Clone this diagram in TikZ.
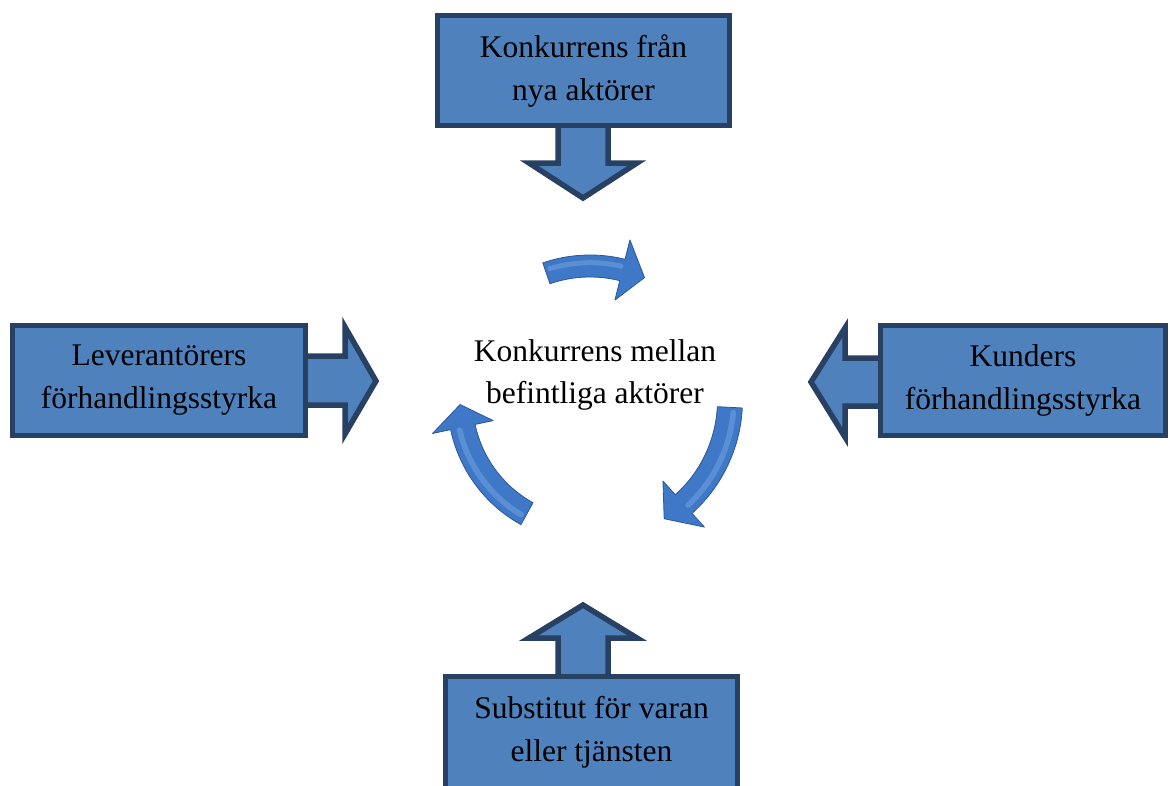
\documentclass[tikz,border=0pt]{standalone}
\usepackage{fontspec}
\setmainfont{Liberation Serif}
\definecolor{boxblue}{RGB}{79,129,189}
\definecolor{boxedge}{RGB}{40,64,98}
\definecolor{cycblue}{RGB}{62,120,198}
\definecolor{cycedge}{RGB}{42,88,155}
\definecolor{cyclight}{RGB}{125,172,228}
\tikzset{
  box/.style={draw=boxedge, fill=boxblue, line width=5.5pt, align=center, inner sep=0pt,
    font=\fontsize{31.5}{43}\selectfont},
  blockarrow/.style={draw=boxedge, fill=boxblue, line width=5.5pt, line join=miter},
  cyclearrow/.style={fill=cycblue, draw=cycedge, line width=0.8pt, line join=round},
  cyclehi/.style={draw=cyclight, line cap=round, opacity=0.45},
  centertext/.style={align=center, font=\fontsize{31.5}{42}\selectfont}
}
% #1 radius, #2 tail angle, #3 head-base angle, #4 tip angle, #5 shaft half width, #6 head half width
\newcommand{\mycyclearrow}[6]{%
  \filldraw[cyclearrow]
    plot[domain=#2:#3, samples=30] ({590+(#1+#5)*cos(\x)},{400+(#1+#5)*sin(\x)})
    -- ({590+(#1+#6)*cos(#3)},{400+(#1+#6)*sin(#3)})
    -- ({590+#1*cos(#4)},{400+#1*sin(#4)})
    -- ({590+(#1-#6)*cos(#3)},{400+(#1-#6)*sin(#3)})
    -- plot[domain=#3:#2, samples=30] ({590+(#1-#5)*cos(\x)},{400+(#1-#5)*sin(\x)})
    -- cycle;
  \draw[cyclehi, line width=#5*0.45pt]
    plot[domain=#2+2:#3-1, samples=30] ({590+(#1+#5*0.3)*cos(\x)},{400+(#1+#5*0.3)*sin(\x)});
}
\begin{document}
\begin{tikzpicture}[x=1pt, y=-1pt]
\useasboundingbox (0,0) rectangle (1170,785);

% block arrows (drawn below the boxes)
\draw[blockarrow] (558,120) -- (558,163) -- (529,163) -- (583,198) -- (637,163) -- (608,163) -- (608,120) -- cycle;
\draw[blockarrow] (300,356) -- (345,356) -- (345,327) -- (376,381) -- (345,434) -- (345,405) -- (300,405) -- cycle;
\draw[blockarrow] (885,358) -- (845,358) -- (845,328) -- (811,382) -- (845,437) -- (845,406) -- (885,406) -- cycle;
\draw[blockarrow] (558,680) -- (558,638) -- (529,638) -- (583,605) -- (637,638) -- (608,638) -- (608,680) -- cycle;

% boxes
\node[box, minimum width=292pt, minimum height=110pt] (top) at (583.5,70.5) {Konkurrens från\\nya aktörer};
\node[box, minimum width=293pt, minimum height=110pt] (left) at (159,380.5) {Leverantörers\\förhandlingsstyrka};
\node[box, minimum width=285pt, minimum height=110pt] (right) at (1023,380.5) {Kunders\\förhandlingsstyrka};
\node[box, minimum width=292pt, minimum height=112pt] (bottom) at (591.5,732.5) {Substitut för varan\\eller tjänsten};

% center
\node[centertext] (center) at (595,375) {Konkurrens mellan\\befintliga aktörer};

% cycle arrows
\mycyclearrow{134}{-109}{-76}{-66}{11}{31}
\mycyclearrow{140}{3}{48}{58}{12.5}{31}
\mycyclearrow{130}{119}{168}{178}{12.5}{31}
\end{tikzpicture}
\end{document}
